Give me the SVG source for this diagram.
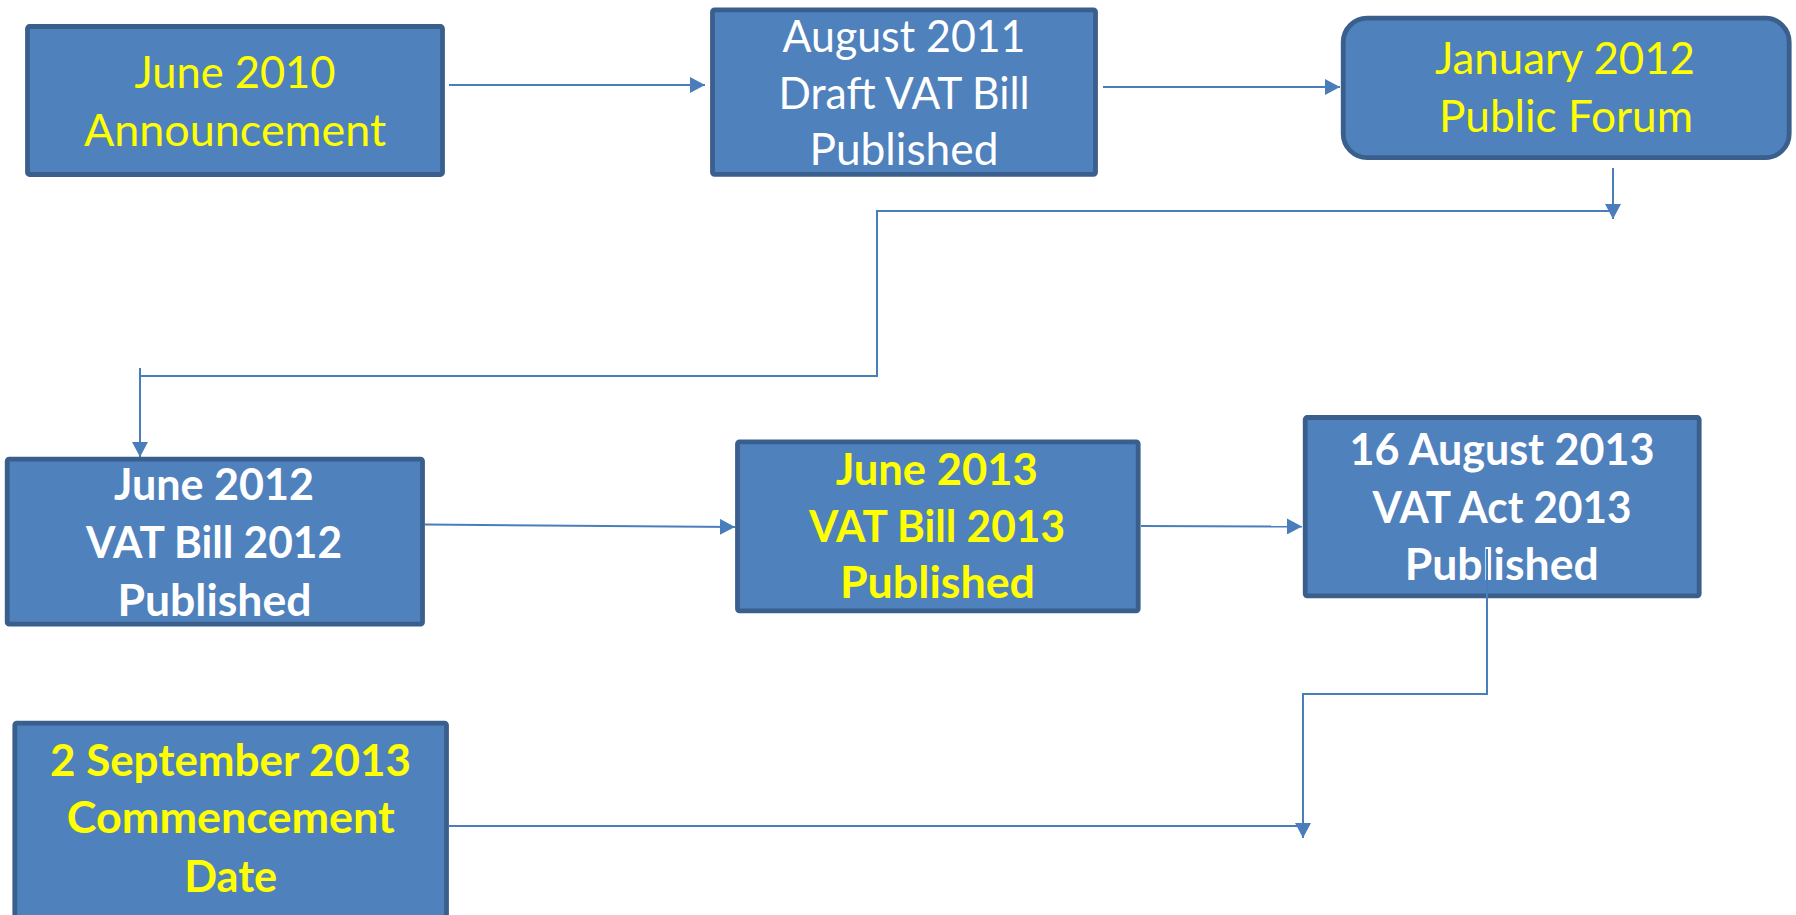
<svg xmlns="http://www.w3.org/2000/svg" width="1796" height="915" viewBox="0 0 1796 915">
<style>
.box{fill:#4F81BD;stroke:#3A5F8C;stroke-width:4.8}
.t{font-family:Lato,"Open Sans","Liberation Sans",sans-serif;font-size:44px;text-anchor:middle}
.b{font-weight:bold}
.w{fill:#FFFFFF}
.y{fill:#FFFF00}
.c{fill:none;stroke:#4A7EBB;stroke-width:2}
</style>
<defs>
<marker id="ah" markerUnits="userSpaceOnUse" markerWidth="16" markerHeight="16" viewBox="0 0 16 16" refX="15" refY="8" orient="auto">
<path d="M0,0 L15,8 L0,16 Z" fill="#4A7EBB"/>
</marker>
</defs>
<g id="connectors">
<path class="c" d="M449,85 L705,85" marker-end="url(#ah)"/>
<path class="c" d="M1103,87 L1340,87" marker-end="url(#ah)"/>
<path class="c" d="M1613,168 L1613,219" marker-end="url(#ah)"/>
<path class="c" d="M1613,211 H877 V376 H140 M140,368 L140,457" marker-end="url(#ah)"/>
<path class="c" d="M425,524.5 L735,527" marker-end="url(#ah)"/>
<path class="c" d="M1141,526 L1302,526.5" marker-end="url(#ah)"/>
<path class="c" d="M449,826 H1303"/>
</g>
<g id="n1">
<rect class="box" x="27.5" y="26.5" width="415" height="148" rx="2"/>
<text class="t y" x="235" y="88" textLength="201" lengthAdjust="spacingAndGlyphs">June 2010</text>
<text class="t y" x="235" y="146" textLength="302" lengthAdjust="spacingAndGlyphs">Announcement</text>
</g>
<g id="n2">
<rect class="box" x="712.5" y="9.8" width="383" height="164.5" rx="2"/>
<text class="t w" x="904" y="52" textLength="243" lengthAdjust="spacingAndGlyphs">August 2011</text>
<text class="t w" x="904" y="108.5" textLength="251" lengthAdjust="spacingAndGlyphs">Draft VAT Bill</text>
<text class="t w" x="904" y="165" textLength="189" lengthAdjust="spacingAndGlyphs">Published</text>
</g>
<g id="n3">
<rect class="box" x="1343.2" y="18.2" width="446" height="139.5" rx="24"/>
<text class="t y" x="1565" y="74" textLength="260" lengthAdjust="spacingAndGlyphs">January 2012</text>
<text class="t y" x="1566" y="131.5" textLength="254" lengthAdjust="spacingAndGlyphs">Public Forum</text>
</g>
<g id="n4">
<rect class="box" x="7.2" y="459.2" width="415.3" height="165" rx="2"/>
<text class="t b w" x="214" y="500" textLength="200" lengthAdjust="spacingAndGlyphs">June 2012</text>
<text class="t b w" x="214" y="558" textLength="256" lengthAdjust="spacingAndGlyphs">VAT Bill 2012</text>
<text class="t b w" x="214.5" y="615.5" textLength="194" lengthAdjust="spacingAndGlyphs">Published</text>
</g>
<g id="n5">
<rect class="box" x="737.5" y="441.8" width="400.7" height="169" rx="2"/>
<text class="t b y" x="936.7" y="485" textLength="202" lengthAdjust="spacingAndGlyphs">June 2013</text>
<text class="t b y" x="937" y="541.5" textLength="256" lengthAdjust="spacingAndGlyphs">VAT Bill 2013</text>
<text class="t b y" x="937.5" y="598" textLength="195" lengthAdjust="spacingAndGlyphs">Published</text>
</g>
<g id="n6">
<rect class="box" x="1305.2" y="417.5" width="394" height="178.3" rx="2"/>
<text class="t b w" x="1502" y="465" textLength="305" lengthAdjust="spacingAndGlyphs">16 August 2013</text>
<text class="t b w" x="1502" y="523" textLength="259" lengthAdjust="spacingAndGlyphs">VAT Act 2013</text>
<text class="t b w" x="1501.7" y="580" textLength="194" lengthAdjust="spacingAndGlyphs">Published</text>
</g>
<g id="n7">
<rect class="box" x="14.8" y="723.2" width="431.7" height="200" rx="2"/>
<text class="t b y" x="230.5" y="776" textLength="361" lengthAdjust="spacingAndGlyphs">2 September 2013</text>
<text class="t b y" x="230.8" y="833" textLength="328" lengthAdjust="spacingAndGlyphs">Commencement</text>
<text class="t b y" x="230.7" y="891.5" textLength="93" lengthAdjust="spacingAndGlyphs">Date</text>
</g>
<g id="connectors-over">
<path class="c" d="M1487,549 V694 H1303 V838" marker-end="url(#ah)"/>
</g>
</svg>
